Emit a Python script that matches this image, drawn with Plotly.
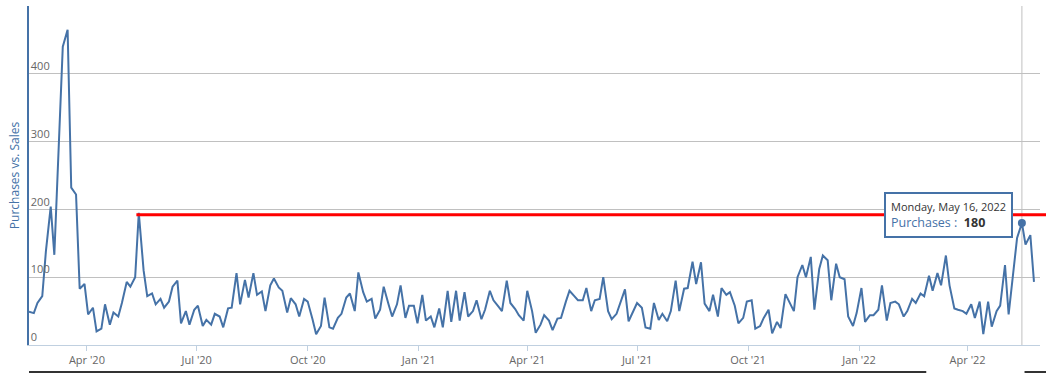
import pandas as pd
import plotly.graph_objects as go

# ---- data: values on Mondays and Thursdays, month by month ----
feb20 = [49, 47, 62, 72, 138]
mar20 = [204, 133, 312, 440, 465, 232, 222, 83, 90]
apr20 = [45, 55, 20, 24, 60, 30, 48, 42, 62]
may20 = [93, 86, 100, 195, 110, 72, 76, 60]
jun20 = [68, 55, 64, 86, 95, 32, 50, 30, 52]
jul20 = [58, 28, 37, 30, 46, 42, 26, 54, 55]
aug20 = [106, 60, 96, 70, 106, 74, 79, 50, 88]
sep20 = [98, 85, 80, 48, 69, 60, 42, 68]
oct20 = [64, 38, 16, 28, 70, 26, 24, 40, 46]
nov20 = [70, 76, 50, 107, 78, 64, 68, 39, 52]
dec20 = [86, 60, 42, 60, 88, 40, 58, 58, 32]
jan21 = [74, 36, 42, 26, 54, 26, 80, 34]
feb21 = [80, 36, 78, 42, 50, 66, 38, 52]
mar21 = [80, 66, 57, 50, 95, 62, 53, 44, 36]
apr21 = [80, 50, 18, 30, 44, 36, 22, 39, 40]
may21 = [64, 80, 72, 66, 66, 84, 50, 66, 68]
jun21 = [100, 50, 38, 46, 62, 82, 35, 50]
jul21 = [62, 55, 26, 24, 62, 37, 46, 35, 50]
aug21 = [95, 50, 83, 84, 123, 90, 122, 61, 50]
sep21 = [74, 42, 84, 74, 78, 58, 32, 40, 64]
oct21 = [66, 24, 28, 40, 52, 17, 34, 25]
nov21 = [75, 64, 50, 100, 118, 100, 130, 52, 112]
dec21 = [132, 125, 66, 120, 100, 97, 42, 28, 47]
jan22 = [84, 34, 44, 44, 52, 88, 36, 62, 64]
feb22 = [60, 42, 50, 68, 62, 76, 72, 102]
mar22 = [80, 106, 88, 132, 88, 54, 52, 50, 46]
apr22 = [60, 40, 64, 16, 64, 27, 50, 58]
may22 = [118, 45, 105, 158, 180, 148, 162, 93]

first_date = "2020-02-13"
last_date = "2022-05-26"
axis_start = "2020-02-13"
axis_end = "2022-05-31"

y_ticks = [0, 100, 200, 300, 400, 500]
y_tick_text = ["0", "100", "200", "300", "400", ""]

red_line_start = "2020-05-12"
red_line_value = 192

tooltip_date = "2022-05-16"
tooltip_value = 180
series_name = "Purchases"
y_title = "Purchases vs. Sales"

# ---- build ----
values = (feb20 + mar20 + apr20 + may20 + jun20 + jul20 + aug20 + sep20 + oct20
          + nov20 + dec20 + jan21 + feb21 + mar21 + apr21 + may21 + jun21 + jul21
          + aug21 + sep21 + oct21 + nov21 + dec21 + jan22 + feb22 + mar22 + apr22 + may22)
mons = pd.date_range(first_date, last_date, freq="W-MON")
thus = pd.date_range(first_date, last_date, freq="W-THU")
dates = mons.union(thus).sort_values()
assert len(dates) == len(values), (len(dates), len(values))

BLUE = "#4572A7"
FONT = "Open Sans, DejaVu Sans, sans-serif"

fig = go.Figure()
fig.add_trace(go.Scatter(x=dates, y=values, mode="lines",
                         line=dict(color=BLUE, width=2), name=series_name,
                         hoverinfo="skip"))
fig.add_trace(go.Scatter(x=[pd.Timestamp(tooltip_date)], y=[tooltip_value], mode="markers",
                         marker=dict(color=BLUE, size=8), hoverinfo="skip",
                         cliponaxis=False))

a0 = pd.Timestamp(axis_start)
a1 = pd.Timestamp(axis_end)
span = (a1 - a0).total_seconds()
red_x0 = (pd.Timestamp(red_line_start) - a0).total_seconds() / span
y_max = y_ticks[-1]

shapes = [
    # crosshair
    dict(type="line", xref="x", yref="paper", x0=tooltip_date, x1=tooltip_date,
         y0=0, y1=1, line=dict(color="#C0C0C0", width=1), layer="below"),
    # red horizontal line
    dict(type="line", xref="paper", yref="paper", x0=red_x0, x1=1.03,
         y0=red_line_value / y_max, y1=red_line_value / y_max,
         line=dict(color="#FF0000", width=3), layer="above"),
    # dark bottom rules of the page
    dict(type="line", xref="paper", yref="paper", x0=0, x1=0.8875, y0=-0.0796, y1=-0.0796,
         line=dict(color="#333333", width=2)),
    dict(type="line", xref="paper", yref="paper", x0=0.9847, x1=1.03, y0=-0.0796, y1=-0.0796,
         line=dict(color="#333333", width=2)),
]

tip_text = (f"<span style='font-size:11px;color:#333333'>"
            f"{pd.Timestamp(tooltip_date).strftime('%A, %B %-d, %Y')}</span><br>"
            f"<span style='color:{BLUE}'>{series_name} : </span> "
            f"<b style='color:#333333'>{tooltip_value}</b>")

fig.update_layout(
    width=1046, height=373,
    margin=dict(l=29, r=6, t=6, b=28),
    paper_bgcolor="white", plot_bgcolor="white",
    showlegend=False, hovermode=False,
    font=dict(family=FONT, size=11, color="#666666"),
    shapes=shapes,
    annotations=[dict(x=tooltip_date, y=tooltip_value, xref="x", yref="y",
                      text=tip_text, showarrow=True, arrowcolor="rgba(0,0,0,0)",
                      ax=-73, ay=-8, align="left",
                      font=dict(family=FONT, size=12.5, color=BLUE),
                      bgcolor="white", bordercolor=BLUE, borderwidth=2, borderpad=5)],
    xaxis=dict(range=[axis_start, axis_end], tick0="2020-01-01", dtick="M3",
               tickformat="%b '%y", showgrid=False, showline=True,
               linecolor="#C0D0E0", linewidth=1, ticks="outside", ticklen=5,
               tickcolor="#C0D0E0", tickfont=dict(size=11, color="#666666"),
               zeroline=False),
    yaxis=dict(range=[0, y_max], tickvals=y_ticks, ticktext=y_tick_text,
               showgrid=True, gridcolor="#C0C0C0", gridwidth=1,
               showline=True, linecolor=BLUE, linewidth=2, ticks="",
               ticklabelposition="inside top", zeroline=False,
               tickfont=dict(size=11, color="#666666"),
               title=dict(text=y_title, font=dict(size=12, color=BLUE), standoff=9)),
)

fig.write_html("out.html", config={"displayModeBar": False, "staticPlot": True},
               post_script="document.body.style.margin='0';document.body.style.overflow='hidden';")
